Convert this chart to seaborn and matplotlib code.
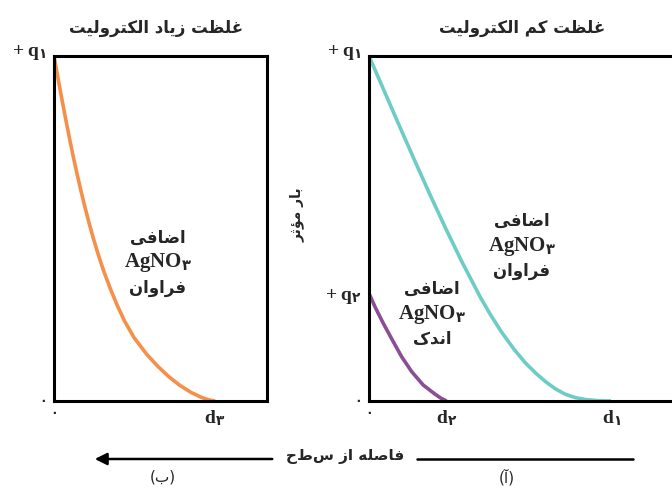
import matplotlib
matplotlib.use("Agg")
import matplotlib.pyplot as plt
import seaborn as sns
import pandas as pd
from matplotlib.lines import Line2D
from matplotlib.patches import FancyArrowPatch

# ---------------- data ----------------
# left panel (ب): high electrolyte concentration
orange_x = [0.000, 0.030, 0.060, 0.091, 0.123, 0.156, 0.190, 0.226, 0.264, 0.304,
            0.347, 0.393, 0.443, 0.498, 0.560, 0.628, 0.705, 0.800, 0.925, 1.040,
            1.150, 1.260, 1.370, 1.470, 1.550, 1.610]
orange_y = [1.000, 0.952, 0.904, 0.856, 0.808, 0.760, 0.712, 0.664, 0.616, 0.568,
            0.520, 0.472, 0.424, 0.376, 0.328, 0.280, 0.232, 0.184, 0.136, 0.100,
            0.070, 0.045, 0.025, 0.011, 0.003, 0.000]
# right panel (آ): low electrolyte concentration
teal_x = [0.000, 0.150, 0.300, 0.452, 0.607, 0.767, 0.935, 1.115, 1.215, 1.325,
          1.450, 1.565, 1.670, 1.770, 1.865, 1.960, 2.060, 2.170, 2.290, 2.420]
teal_y = [1.000, 0.900, 0.800, 0.700, 0.600, 0.500, 0.400, 0.300, 0.250, 0.200,
          0.150, 0.110, 0.080, 0.055, 0.035, 0.020, 0.010, 0.004, 0.001, 0.000]
purple_x = [0.000, 0.060, 0.143, 0.233, 0.327, 0.427, 0.543, 0.660, 0.720, 0.775]
purple_y = [0.312, 0.273, 0.225, 0.177, 0.128, 0.085, 0.046, 0.020, 0.008, 0.000]

d3 = 1.61
d2 = 0.78
d1 = 2.42
q1 = 1.0
q2 = 0.313

title_left = "غلظت زیاد الکترولیت"
title_right = "غلظت کم الکترولیت"
ylabel_txt = "بار مؤثر"
xlabel_txt = "فاصله از سطح"
word_extra = "اضافی"
word_many = "فراوان"
word_few = "اندک"
zero_lbl = "۰"
left_xlabels = [zero_lbl, r'$\mathrm{d}_{\mathbf{۳}}$']
left_ylabels = [zero_lbl, r'+ $\mathrm{q}_{\mathbf{۱}}$']
right_xlabels = [zero_lbl, r'$\mathrm{d}_{\mathbf{۲}}$', r'$\mathrm{d}_{\mathbf{۱}}$']
right_ylabels = [zero_lbl, r'+ $\mathrm{q}_{\mathbf{۲}}$', r'+ $\mathrm{q}_{\mathbf{۱}}$']
salt = r'$\mathrm{AgNO}_{\mathbf{۳}}$'

# ---------------- minimal Persian shaping ----------------
FORMS = {
    'ا': ('\uFE8D', '\uFE8E', None, None),
    'آ': ('\uFE81', '\uFE82', None, None),
    'ب': ('\uFE8F', '\uFE90', '\uFE91', '\uFE92'),
    'ت': ('\uFE95', '\uFE96', '\uFE97', '\uFE98'),
    'ث': ('\uFE99', '\uFE9A', '\uFE9B', '\uFE9C'),
    'ح': ('\uFEA1', '\uFEA2', '\uFEA3', '\uFEA4'),
    'د': ('\uFEA9', '\uFEAA', None, None),
    'ر': ('\uFEAD', '\uFEAE', None, None),
    'ز': ('\uFEAF', '\uFEB0', None, None),
    'س': ('\uFEB1', '\uFEB2', '\uFEB3', '\uFEB4'),
    'ص': ('\uFEB9', '\uFEBA', '\uFEBB', '\uFEBC'),
    'ض': ('\uFEBD', '\uFEBE', '\uFEBF', '\uFEC0'),
    'ظ': ('\uFEC5', '\uFEC6', '\uFEC7', '\uFEC8'),
    'غ': ('\uFECD', '\uFECE', '\uFECF', '\uFED0'),
    'ف': ('\uFED1', '\uFED2', '\uFED3', '\uFED4'),
    'ک': ('\uFB8E', '\uFB8F', '\uFB90', '\uFB91'),
    'ل': ('\uFEDD', '\uFEDE', '\uFEDF', '\uFEE0'),
    'م': ('\uFEE1', '\uFEE2', '\uFEE3', '\uFEE4'),
    'ن': ('\uFEE5', '\uFEE6', '\uFEE7', '\uFEE8'),
    'ه': ('\uFEE9', '\uFEEA', '\uFEEB', '\uFEEC'),
    'و': ('\uFEED', '\uFEEE', None, None),
    'ؤ': ('\uFE85', '\uFE86', None, None),
    'ی': ('\uFBFC', '\uFBFD', '\uFBFE', '\uFBFF'),
}


def shape(text):
    out = []
    n = len(text)
    for i, ch in enumerate(text):
        if ch not in FORMS:
            out.append(ch)
            continue
        f = FORMS[ch]
        prev = text[i - 1] if i > 0 else None
        nxt = text[i + 1] if i < n - 1 else None
        join_prev = prev in FORMS and FORMS[prev][2] is not None
        join_next = nxt in FORMS and f[2] is not None
        if join_prev and join_next:
            out.append(f[3])
        elif join_prev:
            out.append(f[1])
        elif join_next:
            out.append(f[2])
        else:
            out.append(f[0])
    return ''.join(reversed(out))


# ---------------- style ----------------
sns.set_style("white")
FA = ['DejaVu Sans']
LAT = ['Liberation Serif', 'DejaVu Sans']
plt.rcParams['font.family'] = LAT
plt.rcParams['mathtext.fontset'] = 'custom'
plt.rcParams['mathtext.rm'] = 'Liberation Serif:bold'
plt.rcParams['mathtext.bf'] = 'DejaVu Sans:bold'
plt.rcParams['mathtext.default'] = 'rm'

fig = plt.figure(figsize=(6.72, 4.88), dpi=100)
W, H = 672.0, 488.0

ax1 = fig.add_axes([54 / W, (H - 401) / H, 213 / W, 345 / H])
ax2 = fig.add_axes([369 / W, (H - 401) / H, 320 / W, 345 / H])

C_OR = '#F4904A'
C_TE = '#6DCDC4'
C_PU = '#8A4E94'

line_kw = dict(lw=2.6, sort=False, estimator=None)
sns.lineplot(data=pd.DataFrame({'x': orange_x, 'y': orange_y}), x='x', y='y',
             ax=ax1, color=C_OR, **line_kw)
sns.lineplot(data=pd.DataFrame({'x': teal_x, 'y': teal_y}), x='x', y='y',
             ax=ax2, color=C_TE, **line_kw)
sns.lineplot(data=pd.DataFrame({'x': purple_x, 'y': purple_y}), x='x', y='y',
             ax=ax2, color=C_PU, **line_kw)
for ax in (ax1, ax2):
    for ln in ax.get_lines():
        ln.set_solid_capstyle('butt')
        ln.set_solid_joinstyle('round')

ax1.set_xlim(0, 2.13)
ax2.set_xlim(0, 3.20)
for ax in (ax1, ax2):
    ax.set_ylim(0, 1)
    ax.set_xlabel('')
    ax.set_ylabel('')
    for s in ax.spines.values():
        s.set_visible(True)
        s.set_color('black')
        s.set_linewidth(2.2)
    ax.tick_params(axis='both', direction='in', length=5, width=1.6,
                   color='black', pad=5)

lab_kw = dict(fontweight='bold', fontsize=14, family=LAT)
ax1.set_xticks([0, d3])
ax1.set_xticklabels(left_xlabels, **lab_kw)
ax1.set_yticks([0, q1])
ax1.set_yticklabels(left_ylabels, **lab_kw)
ax2.set_xticks([0, d2, d1])
ax2.set_xticklabels(right_xlabels, **lab_kw)
ax2.set_yticks([0, q2, q1])
ax2.set_yticklabels(right_ylabels, **lab_kw)
for ax in (ax1, ax2):
    for t in ax.get_xticklabels()[:1] + ax.get_yticklabels()[:1]:
        t.set_fontsize(9)
    ax.get_yticklabels()[-1].set_verticalalignment('baseline')

# titles
fig.text(156 / W, 1 - 28 / H, shape(title_left), family=FA, fontweight='bold',
         fontsize=12, ha='center', va='center')
fig.text(522 / W, 1 - 28 / H, shape(title_right), family=FA, fontweight='bold',
         fontsize=12, ha='center', va='center')

# y label
ax2.set_ylabel(shape(ylabel_txt), family=FA, fontweight='bold', fontsize=10)
ax2.yaxis.set_label_coords((305 - 369) / 320, (401 - 215) / 345)

# annotations inside panels
def block(ax, x, y, last):
    ax.text(x, y + 0.072, shape(word_extra), family=FA, fontweight='bold',
            fontsize=12, ha='center', va='center')
    ax.text(x, y, salt, fontsize=15, ha='center', va='center')
    ax.text(x, y - 0.072, shape(last), family=FA, fontweight='bold',
            fontsize=12, ha='center', va='center')

block(ax1, 1.04, (401 - 263) / 345, word_many)
block(ax2, 1.53, (401 - 246) / 345, word_many)
block(ax2, 0.63, (401 - 314) / 345, word_few)

# bottom axis arrow and caption
fig.add_artist(Line2D([417 / W, 633 / W], [1 - 459 / H, 1 - 459 / H],
                      color='black', lw=1.8, transform=fig.transFigure))
fig.add_artist(FancyArrowPatch(
    (275 / W, 1 - 459 / H), (92 / W, 1 - 459 / H), transform=fig.transFigure,
    arrowstyle='-|>', mutation_scale=18, color='black', lw=1.8))
fig.text(345 / W, 1 - 456 / H, shape(xlabel_txt), family=FA, fontweight='bold',
         fontsize=11, ha='center', va='center')
fig.text(163 / W, 1 - 477 / H, '(' + shape('ب') + ')', family=FA, fontsize=11,
         ha='center', va='center')
fig.text(507 / W, 1 - 477 / H, '(' + shape('آ') + ')', family=FA, fontsize=11,
         ha='center', va='center')

fig.savefig('out.png', dpi=100)
